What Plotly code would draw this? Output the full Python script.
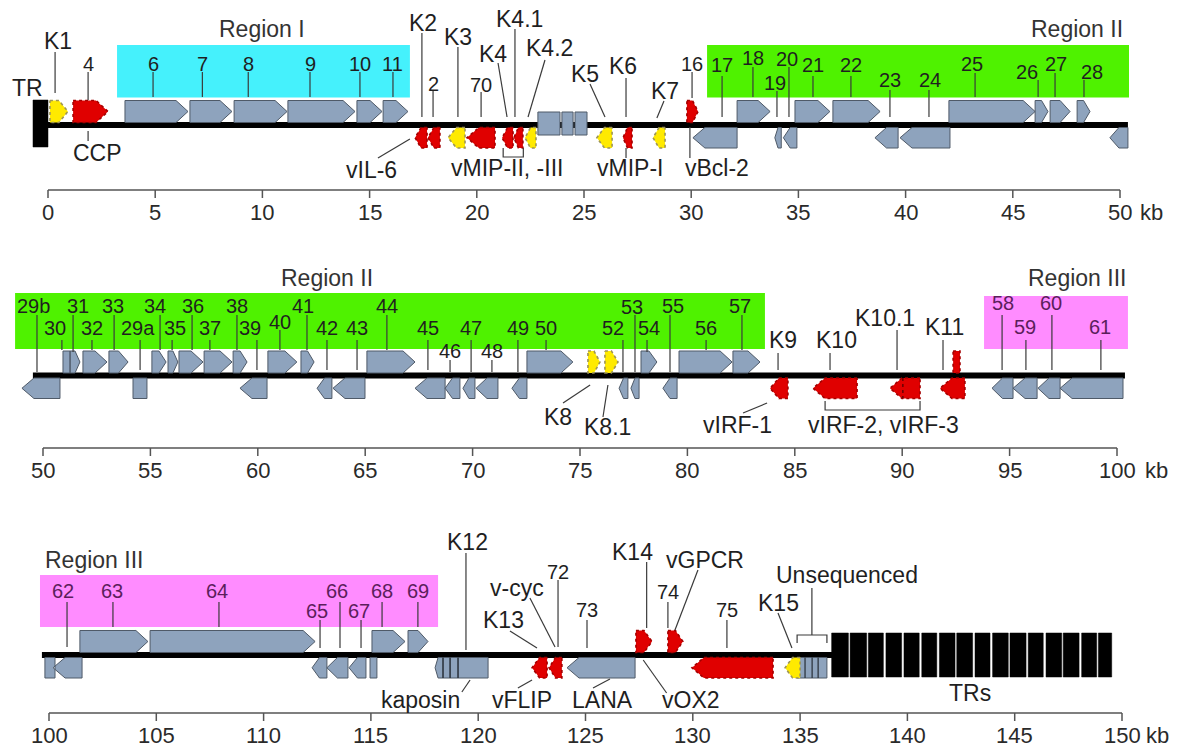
import plotly.graph_objects as go

# ======================= DATA =======================
row_kb_start = [0, 50, 100]
row_kb_end = [50, 100, 150]
tick_step_kb = 5
genome_start = [0.0, 49.53, 99.67]
genome_end = [50.37, 100.37, 136.49]

# kind: C = conserved herpesvirus ORF, H = cellular homolog, U = unique
# strand: 1 / -1 = arrow, 2 / -2 = box (no direction), 0 = box across the line
r1_gene = ["K1", "4", "6", "7", "8", "9", "10", "11", "K2", "2", "K3", "70", "K4", "K4.1", "K4.2",
           "a", "b", "c", "K5", "K6", "K7", "16", "17", "18", "19", "20", "21", "22", "23", "24",
           "25", "26", "27", "28", "29b"]
r1_start = [0.09, 1.17, 3.59, 6.62, 8.68, 11.19, 14.41, 15.63, 17.12, 17.72, 18.66, 19.54, 21.18, 21.73, 22.25,
            22.85, 23.97, 24.58, 25.60, 26.82, 28.22, 29.80, 30.08, 32.14, 33.90, 34.30, 34.84, 36.61, 38.57, 39.74,
            42.02, 46.04, 46.74, 48.00, 49.53]
r1_end = [0.93, 2.80, 6.53, 8.58, 11.15, 14.32, 15.58, 16.79, 17.68, 18.28, 19.45, 20.85, 21.69, 22.15, 22.76,
          23.88, 24.49, 25.14, 26.31, 27.24, 28.78, 30.32, 32.14, 33.68, 34.20, 34.93, 36.47, 38.81, 39.65, 42.07,
          46.04, 46.64, 47.67, 48.60, 50.37]
r1_strand = [1, 1, 1, 1, 1, 1, 1, 1, -1, -1, -1, -1, -1, -1, -1,
             0, 0, 0, -1, -1, -1, 1, -1, 1, -1, -1, 1, 1, -1, -1,
             1, 1, 1, 1, -1]
r1_kind = ["U", "H", "C", "C", "C", "C", "C", "C", "H", "H", "U", "H", "H", "H", "U",
           "C", "C", "C", "U", "H", "U", "H", "C", "C", "C", "C", "C", "C", "C", "C",
           "C", "C", "C", "C", "C"]

r2_gene = ["29b", "30", "31", "32", "33", "29a", "34", "35", "36", "37", "38", "39", "40", "41", "42",
           "43", "44", "45", "46", "47", "48", "49", "50", "K8", "K8.1", "52", "53", "54", "55", "56",
           "57", "K9", "K10", "K10.1", "K11", "K11.1", "58", "59", "60", "61"]
r2_start = [49.02, 50.93, 51.26, 51.86, 53.07, 54.19, 55.07, 55.82, 56.33, 57.50, 58.85, 59.17, 60.47, 62.01, 62.76,
            63.50, 65.08, 67.32, 68.72, 69.55, 70.16, 71.83, 72.53, 75.37, 76.16, 76.82, 77.37, 77.84, 78.86, 79.61,
            82.12, 83.85, 85.85, 89.43, 91.76, 92.37, 94.18, 95.16, 96.32, 97.35]
r2_end = [50.79, 51.26, 51.72, 52.98, 53.96, 54.84, 55.73, 56.28, 57.45, 58.80, 59.50, 60.43, 61.82, 62.62, 63.45,
          64.99, 67.32, 68.72, 69.41, 70.11, 71.18, 72.53, 74.67, 75.93, 76.77, 77.23, 77.75, 78.58, 79.52, 82.08,
          83.38, 84.68, 87.90, 90.83, 92.92, 92.69, 95.16, 96.28, 97.35, 100.28]
r2_strand = [-1, 2, 1, 1, 1, -2, 1, 1, 1, 1, 1, -1, 1, 1, -1,
             -1, 1, -1, -1, -1, -1, -1, 1, 1, 1, -1, -1, 1, -1, 1,
             1, -1, -1, -1, -1, 2, -1, -1, -1, -1]
r2_kind = ["C", "C", "C", "C", "C", "C", "C", "C", "C", "C", "C", "C", "C", "C", "C",
           "C", "C", "C", "C", "C", "C", "C", "C", "U", "U", "C", "C", "C", "C", "C",
           "C", "H", "H", "H", "H", "H", "C", "C", "C", "C"]

r3_gene = ["62a", "62", "63", "64", "65", "66", "67", "67a", "68", "69", "K12", "K13", "72", "73", "K14",
           "74", "75", "unseq", "K15"]
r3_start = [99.81, 100.19, 101.44, 104.71, 112.26, 112.95, 113.98, 114.96, 115.05, 116.73, 117.99, 122.51, 123.30,
            124.14, 127.35, 128.84, 129.96, 134.86, 134.30]
r3_end = [100.28, 101.54, 104.61, 112.40, 112.95, 113.93, 114.77, 115.28, 116.59, 117.66, 120.46, 123.21, 123.90,
          127.31, 128.10, 129.54, 133.74, 136.25, 135.00]
r3_strand = [-2, -1, 1, 1, -1, -1, -1, -2, 1, 1, -1, -1, -1, -1, 1, 1, -1, -2, -1]
r3_kind = ["C", "C", "C", "C", "C", "C", "C", "C", "C", "C", "C", "H", "H", "C", "H", "H", "H", "C", "U"]

# terminal repeats
r1_tr_start = [-0.70]
r1_tr_end = [0.0]
r3_tr_start = [136.47, 137.33, 138.18, 139.00, 139.84, 140.67, 141.49, 142.30,
               143.15, 143.97, 144.78, 145.63, 146.46, 147.26, 148.12, 148.90]
r3_tr_end = [137.25, 138.10, 138.88, 139.73, 140.55, 141.37, 142.22, 143.04,
             143.85, 144.70, 145.53, 146.33, 147.19, 148.00, 148.82, 149.52]

# internal repeat marks
kaposin_marks = [118.36, 118.69, 119.06]
unseq_marks = [135.23, 135.56, 135.84]
k101_marks = [90.03]

# regions (row index, start kb, end kb, name)
region_row = [0, 0, 1, 1, 2]
region_kb0 = [3.22, 30.74, 48.70, 93.81, 99.58]
region_kb1 = [16.88, 50.42, 83.61, 100.51, 118.13]
region_name = ["I", "II", "II", "III", "III"]

# ======================= LAYOUT / STYLE =======================
W, H = 1181, 751
ROW_PX0 = [48, 43, 49]
ROW_PX1 = [1120, 1117, 1122]
ROW_BASE = [125, 375.5, 655]
ROW_AXIS = [190, 448, 713]
REGION_Y = {0: (45, 97.5), 1: (293, 349), 2: (575, 627)}
REGION_Y_ROW1_III = (296, 349)
REGION_COLOR = {"I": "#45f1fc", "II": "#4ff200", "III": "#ff8cff"}
KIND_STYLE = {
    "C": dict(fill="#8ea3bd", line="#4f5a68", dash="solid", w=1.0),
    "H": dict(fill="#e00000", line="#a40000", dash="dot", w=1.6),
    "U": dict(fill="#ffea00", line="#9c9458", dash="dot", w=1.6),
}
TIP_PX = 12
TIP_OVERRIDE_PX = {"K12": 3}
FONT = "Liberation Sans, Arial, sans-serif"
TXT = "#1f1f1f"
MAG_TXT = "#5b1e5b"
SIZE = {"k": 23, "n": 20, "m": 20}
TICK_FONT = 22
TICK_LEN = 8

r1_labels = [
    ("TR", -0.96, 88, "k"), ("K1", 0.47, 41, "k"), ("4", 1.87, 64, "n"), ("CCP", 2.29, 153, "k"),
    ("Region I", 9.98, 29, "k"), ("6", 4.90, 64, "n"), ("7", 7.20, 64, "n"), ("8", 9.33, 64, "n"),
    ("9", 12.22, 64, "n"), ("10", 14.55, 64, "n"), ("11", 16.09, 64, "n"), ("K2", 17.49, 23, "k"),
    ("2", 17.96, 84, "n"), ("vIL-6", 15.11, 170, "k"), ("K3", 19.12, 37, "k"), ("70", 20.20, 85, "n"),
    ("K4", 20.76, 54, "k"), ("K4.1", 22.01, 19, "k"), ("K4.2", 23.41, 48, "k"),
    ("vMIP-II, -III", 21.43, 168, "k"), ("K5", 25.05, 74, "k"), ("K6", 26.82, 66, "k"),
    ("vMIP-I", 27.15, 168, "k"), ("K7", 28.78, 91, "k"), ("16", 30.04, 64, "n"),
    ("vBcl-2", 31.20, 168, "k"), ("17", 31.44, 65, "n"), ("18", 32.88, 58, "n"), ("19", 33.91, 83, "n"),
    ("20", 34.45, 59, "n"), ("Region II", 48.0, 29, "k"), ("21", 35.68, 65, "n"), ("22", 37.45, 65, "n"),
    ("23", 39.27, 80, "n"), ("24", 41.14, 80, "n"), ("25", 43.10, 64, "n"), ("26", 45.66, 72, "n"),
    ("27", 47.01, 64, "n"), ("28", 48.69, 72, "n"),
]
r1_leaders = [
    (0.33, 52, 0.33, 93), (1.87, 72, 1.87, 100), (1.87, 131, 1.87, 141),
    (4.90, 72, 4.90, 97), (7.20, 72, 7.20, 97), (9.34, 72, 9.34, 97), (12.22, 72, 12.22, 97),
    (14.55, 72, 14.55, 97), (16.09, 72, 16.09, 97),
    (17.44, 33, 17.44, 117), (17.96, 91, 17.96, 117), (15.39, 158, 16.88, 139), (19.12, 47, 19.12, 117),
    (20.20, 92, 20.20, 117), (20.99, 63, 21.41, 117), (21.78, 29, 21.78, 117), (23.18, 60, 22.39, 117),
    (25.28, 84, 25.98, 117), (26.96, 78, 26.96, 117), (26.96, 148, 26.96, 158), (28.73, 101, 28.40, 118),
    (30.04, 72, 30.04, 98), (29.94, 127, 29.94, 158), (31.44, 76, 31.44, 117), (32.88, 67, 32.88, 97),
    (34.00, 91, 34.00, 117), (34.56, 67, 34.56, 117), (35.68, 76, 35.68, 97), (37.45, 76, 37.45, 97),
    (39.27, 90, 39.27, 117), (41.09, 90, 41.09, 117), (43.24, 73, 43.24, 97), (46.18, 80, 46.18, 97),
    (46.97, 73, 46.97, 97), (48.32, 80, 48.32, 97),
]
r1_brackets = [(21.23, 22.17, 148, 157)]

r2_labels = [
    ("Region II", 63.22, 278, "k"), ("29b", 49.58, 306, "n"), ("30", 50.56, 328, "n"), ("31", 51.63, 306, "n"),
    ("32", 52.28, 328, "n"), ("33", 53.26, 306, "n"), ("29a", 54.42, 328, "n"), ("34", 55.21, 306, "n"),
    ("35", 56.15, 328, "n"), ("36", 56.98, 306, "n"), ("37", 57.77, 328, "n"), ("38", 59.03, 306, "n"),
    ("39", 59.64, 328, "n"), ("40", 61.03, 322, "n"), ("41", 62.10, 306, "n"), ("42", 63.22, 328, "n"),
    ("43", 64.62, 328, "n"), ("44", 66.01, 306, "n"), ("45", 67.92, 328, "n"), ("46", 68.95, 351, "n"),
    ("47", 69.93, 328, "n"), ("48", 70.90, 351, "n"), ("49", 72.11, 328, "n"), ("50", 73.42, 328, "n"),
    ("K8", 73.98, 417, "k"), ("K8.1", 76.26, 427, "k"), ("52", 76.54, 328, "n"), ("53", 77.42, 307, "n"),
    ("54", 78.21, 328, "n"), ("55", 79.33, 306, "n"), ("56", 80.87, 328, "n"), ("57", 82.45, 306, "n"),
    ("K9", 84.45, 340, "k"), ("vIRF-1", 82.31, 425, "k"), ("K10", 86.96, 340, "k"), ("K10.1", 89.20, 318, "k"),
    ("vIRF-2, vIRF-3", 89.11, 425, "k"), ("K11", 91.99, 327, "k"), ("Region III", 98.14, 278, "k"),
    ("58", 94.69, 303, "m"), ("59", 95.72, 327, "m"), ("60", 96.93, 303, "m"), ("61", 99.21, 327, "m"),
]
r2_leaders = [
    (49.72, 315, 49.72, 372), (50.88, 340, 50.88, 350), (51.40, 315, 51.40, 352), (52.28, 340, 52.28, 350),
    (53.31, 315, 53.31, 350), (54.52, 340, 54.52, 370), (55.45, 315, 55.45, 350), (56.01, 340, 56.01, 350),
    (56.94, 315, 56.94, 350), (57.77, 340, 57.77, 350), (59.03, 315, 59.03, 350), (59.96, 340, 59.96, 370),
    (61.03, 330, 61.03, 350), (62.29, 315, 62.29, 350), (63.22, 340, 63.22, 370), (64.62, 340, 64.62, 370),
    (66.01, 315, 66.01, 350), (67.92, 340, 67.92, 370), (68.95, 360, 68.95, 372), (69.93, 340, 69.93, 372),
    (70.90, 360, 70.90, 372), (72.11, 340, 72.11, 372), (73.42, 340, 73.42, 350), (74.21, 403, 75.47, 385),
    (76.30, 385, 76.07, 417), (77.00, 340, 77.00, 372), (77.56, 315, 77.56, 372), (78.12, 340, 78.12, 352),
    (79.19, 315, 79.19, 372), (80.87, 340, 80.87, 350), (82.54, 315, 82.54, 350), (84.22, 353, 84.22, 370),
    (82.59, 413, 83.71, 403), (86.64, 353, 86.64, 370), (89.76, 330, 89.76, 370), (91.90, 340, 91.90, 370),
    (94.65, 315, 94.65, 370), (95.76, 340, 95.76, 370), (96.97, 315, 96.97, 370), (99.25, 340, 99.25, 370),
]
r2_brackets = [(86.41, 90.83, 401, 410)]

r3_labels = [
    ("Region III", 102.10, 560, "k"), ("62", 100.65, 591, "m"), ("63", 102.94, 591, "m"), ("64", 107.83, 591, "m"),
    ("65", 112.49, 611, "m"), ("66", 113.42, 591, "m"), ("67", 114.45, 611, "m"), ("68", 115.52, 591, "m"),
    ("69", 117.19, 591, "m"), ("K12", 119.48, 542, "k"), ("kaposin", 117.29, 700, "k"), ("K13", 121.16, 620, "k"),
    ("v-cyc", 121.81, 588, "k"), ("72", 123.72, 572, "n"), ("vFLIP", 122.04, 700, "k"), ("73", 125.07, 610, "n"),
    ("LANA", 125.77, 700, "k"), ("K14", 127.21, 552, "k"), ("vOX2", 129.92, 700, "k"), ("74", 128.84, 592, "n"),
    ("vGPCR", 130.57, 560, "k"), ("75", 131.59, 610, "n"), ("K15", 133.97, 603, "k"),
    ("Unsequenced", 137.17, 575, "k"), ("TRs", 142.92, 693, "k"),
]
r3_leaders = [
    (100.84, 602, 100.84, 647), (102.98, 602, 102.98, 627), (107.92, 602, 107.92, 627), (112.63, 620, 112.63, 648),
    (113.56, 602, 113.56, 648), (114.54, 620, 114.54, 648), (115.52, 602, 115.52, 627), (117.19, 602, 117.19, 627),
    (119.43, 553, 119.43, 650), (119.24, 692, 119.62, 680), (121.48, 631, 122.74, 648), (122.41, 598, 123.58, 647),
    (123.72, 580, 123.72, 647), (121.85, 688, 122.51, 680), (125.07, 620, 125.07, 648), (125.35, 688, 126.14, 679),
    (127.85, 562, 127.85, 628), (127.69, 660, 128.78, 693), (128.84, 602, 128.84, 628), (130.24, 570, 129.17, 630),
    (131.59, 620, 131.59, 648), (133.97, 613, 134.62, 648), (135.55, 588, 135.55, 635),
]
r3_brackets = [(134.86, 136.25, 643, 635)]

rows = [
    dict(gene=r1_gene, start=r1_start, end=r1_end, strand=r1_strand, kind=r1_kind,
         labels=r1_labels, leaders=r1_leaders, brackets=r1_brackets),
    dict(gene=r2_gene, start=r2_start, end=r2_end, strand=r2_strand, kind=r2_kind,
         labels=r2_labels, leaders=r2_leaders, brackets=r2_brackets),
    dict(gene=r3_gene, start=r3_start, end=r3_end, strand=r3_strand, kind=r3_kind,
         labels=r3_labels, leaders=r3_leaders, brackets=r3_brackets),
]

XA = ["x", "x2", "x3"]
scale = [(ROW_PX1[i] - ROW_PX0[i]) / (row_kb_end[i] - row_kb_start[i]) for i in range(3)]


def track(strand, base):
    if strand > 0:
        return base - 24.5, base - 2.5
    if strand < 0:
        return base + 2.5, base + 23
    return base - 13, base + 10


def gene_poly(s, e, strand, base, tip):
    top, bot = track(strand, base)
    mid = (top + bot) / 2
    t = min(tip, 0.5 * (e - s))
    if strand == 1:
        return [s, e - t, e, e - t, s, s], [top, top, mid, bot, bot, top]
    if strand == -1:
        return [e, s + t, s, s + t, e, e], [top, top, mid, bot, bot, top]
    return [s, e, e, s, s], [top, top, bot, bot, top]


def add_line(fig, xs, ys, xa, color, width, dash="solid"):
    fig.add_trace(go.Scatter(x=xs, y=ys, mode="lines", line=dict(color=color, width=width, dash=dash),
                             xaxis=xa, yaxis="y", hoverinfo="skip", showlegend=False))


fig = go.Figure()
shapes = []
annotations = []

for i, r in enumerate(rows):
    xa = XA[i]
    base = ROW_BASE[i]
    add_line(fig, [genome_start[i], genome_end[i]], [base, base], xa, "black", 6)
    for kind in ["C", "H", "U"]:
        xs, ys = [], []
        for g, s, e, st, k in zip(r["gene"], r["start"], r["end"], r["strand"], r["kind"]):
            if k != kind:
                continue
            tip = TIP_OVERRIDE_PX.get(g, TIP_PX) / scale[i]
            px, py = gene_poly(s, e, st, base, tip)
            xs += px + [None]
            ys += py + [None]
        if not xs:
            continue
        stl = KIND_STYLE[kind]
        fig.add_trace(go.Scatter(x=xs, y=ys, mode="lines", fill="toself", fillcolor=stl["fill"],
                                 line=dict(color=stl["line"], width=stl["w"], dash=stl["dash"]),
                                 xaxis=xa, yaxis="y", hoverinfo="skip", showlegend=False))
    lx, ly = [], []
    for x0, y0, x1, y1 in r["leaders"]:
        lx += [x0, x1, None]
        ly += [y0, y1, None]
    for x0, x1, yleg, ybar in r["brackets"]:
        lx += [x0, x0, x1, x1, None]
        ly += [yleg, ybar, ybar, yleg, None]
    add_line(fig, lx, ly, xa, "#3a3a3a", 1.2)
    for text, kb, y, cls in r["labels"]:
        color = MAG_TXT if cls == "m" else ("#333333" if text.startswith("Region") else TXT)
        annotations.append(dict(x=kb, y=y, xref=xa, yref="y", text=text, showarrow=False,
                                xanchor="center", yanchor="middle",
                                font=dict(family=FONT, size=SIZE[cls], color=color)))

    # kb scale bar drawn on the row's own x axis
    ticks = list(range(row_kb_start[i], row_kb_end[i] + 1, tick_step_kb))
    sy = ROW_AXIS[i]
    sx, syy = [row_kb_start[i], row_kb_end[i], None], [sy, sy, None]
    for t in ticks:
        sx += [t, t, None]
        syy += [sy, sy + TICK_LEN, None]
        annotations.append(dict(x=t, y=sy + TICK_LEN + 14, xref=xa, yref="y", text=str(t), showarrow=False,
                                xanchor="center", yanchor="middle",
                                font=dict(family=FONT, size=TICK_FONT, color="#2a2a2a")))
    add_line(fig, sx, syy, xa, "#555555", 1.5)

# terminal repeats
for xa, starts, ends, y0, y1 in [("x", r1_tr_start, r1_tr_end, 100, 147),
                                 ("x3", r3_tr_start, r3_tr_end, 633, 677)]:
    xs, ys = [], []
    for s, e in zip(starts, ends):
        xs += [s, e, e, s, s, None]
        ys += [y0, y0, y1, y1, y0, None]
    fig.add_trace(go.Scatter(x=xs, y=ys, mode="lines", fill="toself", fillcolor="black",
                             line=dict(color="black", width=0.5), xaxis=xa, yaxis="y",
                             hoverinfo="skip", showlegend=False))

# internal marks
for xa, marks, strand, base, color, w, dash in [
        ("x3", kaposin_marks, -1, ROW_BASE[2], "#2e3640", 1.6, "solid"),
        ("x3", unseq_marks, -1, ROW_BASE[2], "#2e3640", 1.3, "solid"),
        ("x2", k101_marks, -1, ROW_BASE[1], "#700000", 1.6, "dot")]:
    top, bot = track(strand, base)
    xs, ys = [], []
    for m in marks:
        xs += [m, m, None]
        ys += [top, bot, None]
    add_line(fig, xs, ys, xa, color, w, dash)

# region boxes
for rr, k0, k1, nm in zip(region_row, region_kb0, region_kb1, region_name):
    y0, y1 = REGION_Y[rr]
    if rr == 1 and nm == "III":
        y0, y1 = REGION_Y_ROW1_III
    shapes.append(dict(type="rect", xref=XA[rr], yref="y", x0=k0, x1=k1, y0=y0, y1=y1,
                       fillcolor=REGION_COLOR[nm], line=dict(width=0), layer="below"))

# "kb" unit labels
kb_px = [1138, 1143, 1144]
for i in range(3):
    annotations.append(dict(x=row_kb_start[i] + (kb_px[i] - ROW_PX0[i]) / scale[i], y=ROW_AXIS[i] + TICK_LEN + 14,
                            xref=XA[i], yref="y", text="kb", showarrow=False, xanchor="left",
                            yanchor="middle", font=dict(family=FONT, size=TICK_FONT, color="#2a2a2a")))

layout = dict(
    width=W, height=H, autosize=False,
    margin=dict(l=0, r=0, t=0, b=0, pad=0, autoexpand=False),
    paper_bgcolor="white", plot_bgcolor="white", showlegend=False,
    shapes=shapes, annotations=annotations,
    yaxis=dict(domain=[0, 1], range=[H, 0], visible=False, fixedrange=True, automargin=False),
)
for i in range(3):
    s = scale[i]
    k0 = row_kb_start[i]
    rng = [k0 - ROW_PX0[i] / s, k0 + (W - ROW_PX0[i]) / s]
    key = "xaxis" if i == 0 else f"xaxis{i + 1}"
    ax = dict(domain=[0, 1], range=rng, visible=False, anchor="y", fixedrange=True, automargin=False)
    if i > 0:
        ax["overlaying"] = "x"
    layout[key] = ax

fig.update_layout(**layout)
fig.write_html(
    "out.html",
    config={"displayModeBar": False},
    post_script=("document.documentElement.style.margin='0';document.body.style.margin='0';"
                 "document.documentElement.style.overflow='hidden';document.body.style.overflow='hidden';"),
)
